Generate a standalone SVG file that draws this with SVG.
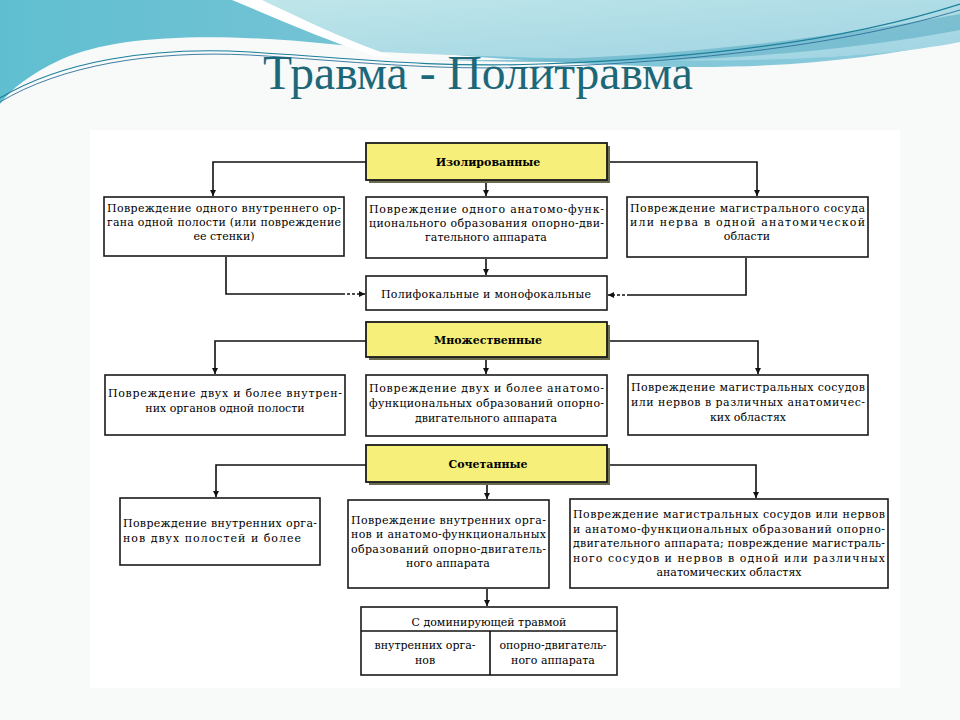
<svg xmlns="http://www.w3.org/2000/svg" width="960" height="720" viewBox="0 0 960 720">
<defs>
<linearGradient id="tealA" x1="0" y1="0" x2="1" y2="0">
<stop offset="0" stop-color="#5fbfd0"/>
<stop offset="0.5" stop-color="#7cc4d6"/>
<stop offset="1" stop-color="#8ccbdc"/>
</linearGradient>
<linearGradient id="tealB" x1="0" y1="0" x2="1" y2="1">
<stop offset="0" stop-color="#bfe6ea"/>
<stop offset="1" stop-color="#9fd3e2"/>
</linearGradient>
<marker id="ah" viewBox="0 0 10 10" refX="10" refY="5" markerWidth="6" markerHeight="6" orient="auto" markerUnits="userSpaceOnUse">
<path d="M0,0 L10,5 L0,10 Z" fill="#111"/>
</marker>
</defs>
<style>
.box{fill:#fff;stroke:#1a1a1a;stroke-width:1.6}
.ybox{fill:#f6f07a;stroke:#1a1a1a;stroke-width:1.8}
.shadow{fill:#6b6b50}
.t{font-family:"DejaVu Serif","Liberation Serif",serif;font-size:11px;fill:#000}
.tb{font-family:"DejaVu Serif","Liberation Serif",serif;font-size:11px;font-weight:bold;fill:#000}
.c{text-anchor:middle}
.ln{fill:none;stroke:#111;stroke-width:1.6}
.lnd{fill:none;stroke:#111;stroke-width:1.4;stroke-dasharray:3 2}
.title{font-family:"Liberation Serif","DejaVu Serif",serif;font-size:48px;fill:#1d6878;text-anchor:middle}
</style>
<rect x="0" y="0" width="960" height="720" fill="#f8f9f9"/>
<rect x="90" y="130" width="810" height="558" fill="#ffffff"/>
<!-- header waves -->
<path d="M0,0 H960 V40 C 860,62 760,70 640,66 C 520,62 420,52 330,44 C 230,34 120,32 60,60 C 30,74 10,90 0,104 Z" fill="url(#tealA)"/>
<path d="M250,0 H960 V42 C 880,58 760,62 640,60 C 540,58 440,55 380,52 C 330,35 290,15 250,0 Z" fill="url(#tealB)"/>
<path d="M232,0 C 280,20 330,42 375,56 L 395,57 C 345,40 300,18 262,0 Z" fill="#ffffff"/>
<path d="M430,60 C 600,62 760,50 960,14 V30 C 800,60 620,66 430,60 Z" fill="#6fb8cc" opacity="0.8"/>
<path d="M0,98 C 60,62 150,46 250,52 C 350,58 430,68 540,64 C 720,58 860,36 960,4" fill="none" stroke="#1b7f9a" stroke-width="1.2"/>
<path d="M0,102 C 60,66 150,50 250,55 C 350,61 430,71 540,67 C 720,61 860,40 960,10" fill="none" stroke="#2a6f9a" stroke-width="0.9"/>
<text class="title" x="478" y="89" textLength="430" lengthAdjust="spacingAndGlyphs">Травма - Политравма</text>

<g id="connectors">
<path class="ln" d="M366,162 H213 V196" marker-end="url(#ah)"/>
<path class="ln" d="M607,162 H757 V196" marker-end="url(#ah)"/>
<path class="ln" d="M486,181 V196" marker-end="url(#ah)"/>
<path class="ln" d="M486,259 V275" marker-end="url(#ah)"/>
<path class="ln" d="M226,257 V294 H342"/>
<path class="lnd" d="M342,294 H365" marker-end="url(#ah)"/>
<path class="ln" d="M746,258 V295 H630"/>
<path class="lnd" d="M630,295 H608" marker-end="url(#ah)"/>
<path class="ln" d="M366,341 H215 V374" marker-end="url(#ah)"/>
<path class="ln" d="M607,341 H758 V374" marker-end="url(#ah)"/>
<path class="ln" d="M486,358 V374" marker-end="url(#ah)"/>
<path class="ln" d="M366,465 H216 V497" marker-end="url(#ah)"/>
<path class="ln" d="M607,465 H756 V498" marker-end="url(#ah)"/>
<path class="ln" d="M487,483 V499" marker-end="url(#ah)"/>
<path class="ln" d="M487,589 V606" marker-end="url(#ah)"/>
</g>

<g id="isolated">
<rect class="shadow" x="369" y="146" width="241" height="37"/>
<rect class="ybox" x="366" y="143" width="241" height="37"/>
<text class="tb c" x="488" y="166">Изолированные</text>
</g>

<g id="iso-internal">
<rect class="box" x="104" y="197" width="240" height="59"/>
<text class="t" x="107" y="212" textLength="234" lengthAdjust="spacing">Повреждение одного внутреннего ор-</text>
<text class="t" x="107" y="226" textLength="234" lengthAdjust="spacing">гана одной полости (или повреждение</text>
<text class="t c" x="224" y="240">ее стенки)</text>
</g>

<g id="iso-locomotor">
<rect class="box" x="366" y="197" width="241" height="61"/>
<text class="t" x="369" y="213" textLength="235" lengthAdjust="spacing">Повреждение одного анатомо-функ-</text>
<text class="t" x="369" y="227" textLength="235" lengthAdjust="spacing">ционального образования опорно-дви-</text>
<text class="t c" x="486" y="241">гательного аппарата</text>
</g>

<g id="iso-vessel">
<rect class="box" x="627" y="197" width="241" height="60"/>
<text class="t" x="630" y="212" textLength="235" lengthAdjust="spacing">Повреждение магистрального сосуда</text>
<text class="t" x="630" y="226" textLength="235" lengthAdjust="spacing">или нерва в одной анатомической</text>
<text class="t c" x="747" y="240">области</text>
</g>

<g id="polyfocal">
<rect class="box" x="366" y="276" width="241" height="34"/>
<text class="t c" x="486" y="298" font-size="12" textLength="210" lengthAdjust="spacing">Полифокальные и монофокальные</text>
</g>

<g id="multiple">
<rect class="shadow" x="369" y="325" width="241" height="35"/>
<rect class="ybox" x="366" y="322" width="241" height="35"/>
<text class="tb c" x="488" y="344">Множественные</text>
</g>

<g id="mult-internal">
<rect class="box" x="105" y="375" width="240" height="60"/>
<text class="t" x="108" y="397" textLength="234" lengthAdjust="spacing">Повреждение двух и более внутрен-</text>
<text class="t c" x="225" y="412">них органов одной полости</text>
</g>

<g id="mult-locomotor">
<rect class="box" x="366" y="375" width="241" height="61"/>
<text class="t" x="369" y="392" textLength="235" lengthAdjust="spacing">Повреждение двух и более анатомо-</text>
<text class="t" x="369" y="407" textLength="235" lengthAdjust="spacing">функциональных образований опорно-</text>
<text class="t c" x="486" y="422">двигательного аппарата</text>
</g>

<g id="mult-vessel">
<rect class="box" x="628" y="375" width="240" height="60"/>
<text class="t" x="631" y="391" textLength="234" lengthAdjust="spacing">Повреждение магистральных сосудов</text>
<text class="t" x="631" y="406" textLength="234" lengthAdjust="spacing">или нервов в различных анатомичес-</text>
<text class="t c" x="748" y="421">ких областях</text>
</g>

<g id="combined">
<rect class="shadow" x="369" y="448" width="241" height="37"/>
<rect class="ybox" x="366" y="445" width="241" height="37"/>
<text class="tb c" x="488" y="468">Сочетанные</text>
</g>

<g id="comb-internal">
<rect class="box" x="120" y="498" width="200" height="67"/>
<text class="t" x="123" y="527" textLength="194" lengthAdjust="spacing">Повреждение внутренних орга-</text>
<text class="t" x="123" y="542" textLength="178" lengthAdjust="spacing">нов двух полостей и более</text>
</g>

<g id="comb-internal-locomotor">
<rect class="box" x="348" y="500" width="201" height="88"/>
<text class="t" x="351" y="524" textLength="195" lengthAdjust="spacing">Повреждение внутренних орга-</text>
<text class="t" x="351" y="538" textLength="195" lengthAdjust="spacing">нов и анатомо-функциональных</text>
<text class="t" x="351" y="553" textLength="195" lengthAdjust="spacing">образований опорно-двигатель-</text>
<text class="t c" x="448" y="567">ного аппарата</text>
</g>

<g id="comb-vessel">
<rect class="box" x="570" y="499" width="318" height="89"/>
<text class="t" x="573" y="518" textLength="312" lengthAdjust="spacing">Повреждение магистральных сосудов или нервов</text>
<text class="t" x="573" y="533" textLength="312" lengthAdjust="spacing">и анатомо-функциональных образований опорно-</text>
<text class="t" x="573" y="547" textLength="312" lengthAdjust="spacing">двигательного аппарата; повреждение магистраль-</text>
<text class="t" x="573" y="562" textLength="312" lengthAdjust="spacing">ного сосудов и нервов в одной или различных</text>
<text class="t c" x="729" y="576">анатомических областях</text>
</g>

<g id="dominant">
<rect class="box" x="361" y="607" width="256" height="68"/>
<line class="ln" x1="361" y1="631" x2="617" y2="631"/>
<line class="ln" x1="490" y1="631" x2="490" y2="675" stroke-width="1.2"/>
<text class="t c" x="489" y="626" font-size="13.5">С доминирующей травмой</text>
<text class="t c" x="425" y="649">внутренних орга-</text>
<text class="t c" x="425" y="664">нов</text>
<text class="t c" x="553" y="649">опорно-двигатель-</text>
<text class="t c" x="553" y="664">ного аппарата</text>
</g>
</svg>
